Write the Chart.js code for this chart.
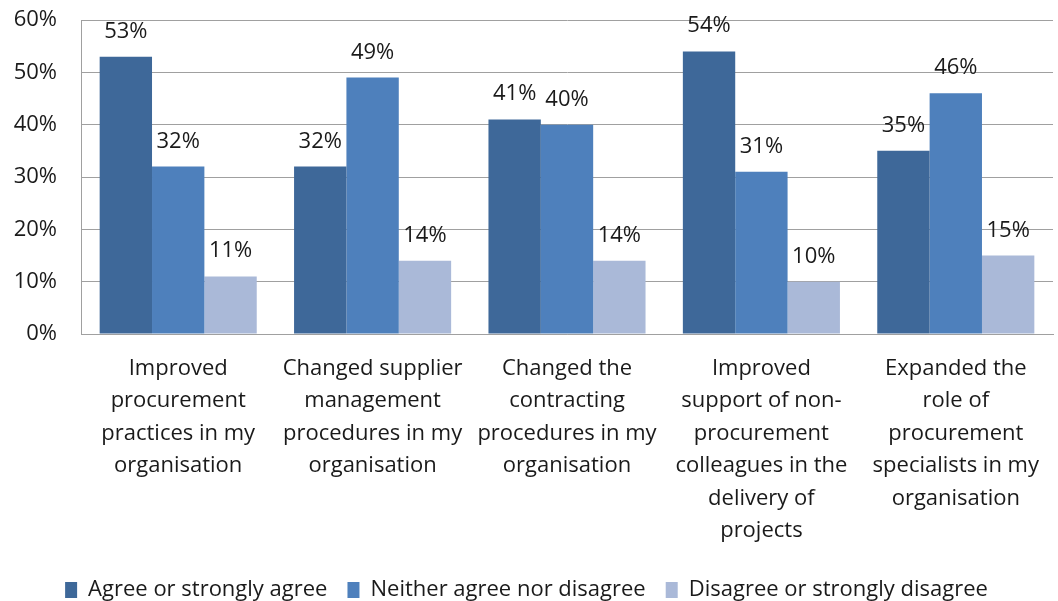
<!DOCTYPE html>
<html>
<head>
<meta charset="utf-8">
<script src="https://cdn.jsdelivr.net/npm/chart.js@4.4.1/dist/chart.umd.min.js"></script>
<style>
html,body{margin:0;padding:0;background:#fff;}
#wrap{width:1058px;height:601px;position:relative;}
</style>
</head>
<body>
<div id="wrap"><canvas id="c"></canvas></div>
<script>
const categories = [
  ["Improved", "procurement", "practices in my", "organisation"],
  ["Changed supplier", "management", "procedures in my", "organisation"],
  ["Changed the", "contracting", "procedures in my", "organisation"],
  ["Improved", "support of non-", "procurement", "colleagues in the", "delivery of", "projects"],
  ["Expanded the", "role of", "procurement", "specialists in my", "organisation"]
];
const seriesNames = ["Agree or strongly agree", "Neither agree nor disagree", "Disagree or strongly disagree"];
const agree = [53, 32, 41, 54, 35];
const neither = [32, 49, 40, 31, 46];
const disagree = [11, 14, 14, 10, 15];
const yTicks = [0, 10, 20, 30, 40, 50, 60];
const colors = ["#3E6899", "#4E80BC", "#AAB9D8"];

const FONT = "'Open Sans'";
const FS = 22;
const TXT = "#1a1a1a";

const valueLabels = {
  id: "valueLabels",
  afterDatasetsDraw(chart) {
    const ctx = chart.ctx;
    ctx.save();
    ctx.font = FS + "px " + FONT;
    ctx.fillStyle = TXT;
    ctx.textAlign = "center";
    ctx.textBaseline = "alphabetic";
    chart.data.datasets.forEach((ds, i) => {
      const meta = chart.getDatasetMeta(i);
      meta.data.forEach((bar, j) => {
        ctx.fillText(ds.data[j] + "%", bar.x, bar.y - 19);
      });
    });
    ctx.restore();
  }
};

new Chart(document.getElementById("c"), {
  type: "bar",
  data: {
    labels: categories,
    datasets: [
      { label: seriesNames[0], data: agree, backgroundColor: colors[0] },
      { label: seriesNames[1], data: neither, backgroundColor: colors[1] },
      { label: seriesNames[2], data: disagree, backgroundColor: colors[2] }
    ]
  },
  options: {
    responsive: true,
    maintainAspectRatio: false,
    animation: false,
    layout: { padding: { top: 20, right: 5, left: 0, bottom: -10 } },
    datasets: { bar: { barPercentage: 1.0, categoryPercentage: 0.808 } },
    plugins: {
      tooltip: { enabled: false },
      legend: {
        position: "bottom",
        labels: {
          font: { family: FONT, size: FS },
          color: TXT,
          boxWidth: 12,
          boxHeight: 16,
          padding: 20
        }
      }
    },
    scales: {
      y: {
        min: 0, max: 60,
        afterBuildTicks(scale) { scale.ticks = yTicks.map(v => ({ value: v })); },
        afterFit(scale) { scale.width = 81; scale.paddingTop = 0; scale.paddingBottom = 0; },
        ticks: {
          font: { family: FONT, size: FS },
          color: TXT,
          padding: 24,
          callback: v => v + "%"
        },
        grid: { color: "#A0A0A0", lineWidth: 1, drawTicks: false },
        border: { color: "#A0A0A0", width: 1 }
      },
      x: {
        afterFit(scale) { scale.height = 225; },
        ticks: {
          font: { family: FONT, size: FS, lineHeight: 1.48 },
          color: TXT,
          padding: 18,
          autoSkip: false,
          maxRotation: 0,
          minRotation: 0
        },
        grid: { display: false, drawTicks: false },
        border: { color: "#A0A0A0", width: 1 }
      }
    }
  },
  plugins: [valueLabels]
});
</script>
</body>
</html>
